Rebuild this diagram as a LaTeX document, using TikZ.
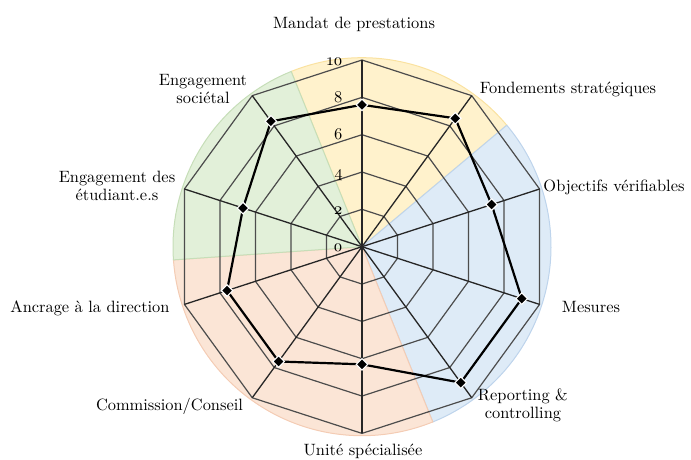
\documentclass[tikz,border=0pt]{standalone}
\usepackage{fontspec}
\setmainfont{lmroman10-regular.otf}
\usepackage{tikz}
\usetikzlibrary{shapes.geometric}
\definecolor{secyellow}{RGB}{255,242,204}
\definecolor{secblue}{RGB}{222,235,247}
\definecolor{secorange}{RGB}{251,229,214}
\definecolor{secgreen}{RGB}{226,240,217}
\definecolor{rimyellow}{RGB}{250,226,160}
\definecolor{rimblue}{RGB}{190,212,236}
\definecolor{rimorange}{RGB}{244,204,180}
\definecolor{rimgreen}{RGB}{198,222,184}

\begin{document}
\begin{tikzpicture}[x=1pt, y=1pt]
	\tikzstyle{ring}=[draw=black!70, line width=1.2pt];
	\tikzstyle{spoke}=[draw=black!85, line width=1.3pt];
	\tikzstyle{val}=[diamond, fill=black, draw=white, line width=1.1pt,
	                        inner sep=0pt, minimum size=12pt];
	\tikzstyle{lab}=[font=\fontsize{16.4}{18}\selectfont, align=center,
	                        anchor=base, inner sep=0pt];
	\tikzstyle{tick}=[font=\fontsize{16.4}{18}\selectfont, anchor=base east, inner sep=0pt];
	\useasboundingbox (-362,-212.3) rectangle (329,246.7);
	\coordinate (o) at (0,0);
	% coloured sectors
	\filldraw[fill=secyellow, draw=rimyellow, line width=1pt]
	(o) -- (112:189) arc[start angle=112, end angle=40, radius=189pt] -- cycle;
	\filldraw[fill=secblue, draw=rimblue, line width=1pt]
	(o) -- (40:189) arc[start angle=40, end angle=-68, radius=189pt] -- cycle;
	\filldraw[fill=secorange, draw=rimorange, line width=1pt]
	(o) -- (-68:189) arc[start angle=-68, end angle=-176, radius=189pt] -- cycle;
	\filldraw[fill=secgreen, draw=rimgreen, line width=1pt]
	(o) -- (-176:189) arc[start angle=184, end angle=112, radius=189pt] -- cycle;
	% web
	\foreach \i in {0,1,...,9}
	{\coordinate (\i) at ({90-36*\i}:186.7);}
	\foreach \l in {2,4,...,10}
	{\draw[ring] (90:{\l*18.67}) \foreach \i in {1,...,9}{-- ({90-36*\i}:{\l*18.67})} -- cycle;}
	\foreach \i in {0,1,...,9}
	{\draw[spoke] (o) -- (\i);}
	% scores
	\foreach \i/\v in {0/7.6, 1/8.5, 2/7.3, 3/9.0, 4/9.0, 5/6.3, 6/7.6, 7/7.6, 8/6.7, 9/8.3}
	{\coordinate (d\i) at ({90-36*\i}:{\v*18.67});}
	\draw[line width=2.2pt, line join=round]
	(d0) -- (d1) -- (d2) -- (d3) -- (d4) -- (d5) -- (d6) -- (d7) -- (d8) -- (d9) -- cycle;
	\foreach \i in {0,1,...,9}
	{\node[val] (m\i) at (d\i) {};}
	% scale
	\foreach \l in {0,2,...,10}
	{\node[tick] (t\l) at (-19,{\l*18.67-5}) {\oldstylenums{\l}};}
	% axis names
	\node[lab] (n0) at (-8,218.7) {Mandat de prestations};
	\node[lab] (n1) at (206,153.7) {Fondements stratégiques};
	\node[lab] (n2) at (252,55.7) {Objectifs vérifiables};
	\node[lab] (n3) at (229,-65.3) {Mesures};
	\node[lab] (n4) at (161,-171.6) {Reporting \&\\controlling};
	\node[lab] (n5) at (1,-208.3) {Unité spécialisée};
	\node[lab] (n6) at (-192.5,-163.3) {Commission/Conseil};
	\node[lab] (n7) at (-272,-65.3) {Ancrage à la direction};
	\node[lab] (n8) at (-245,46.7) {Engagement des\\étudiant.e.s};
	\node[lab] (n9) at (-159,143.7) {Engagement\\sociétal};
\end{tikzpicture}
\end{document}
